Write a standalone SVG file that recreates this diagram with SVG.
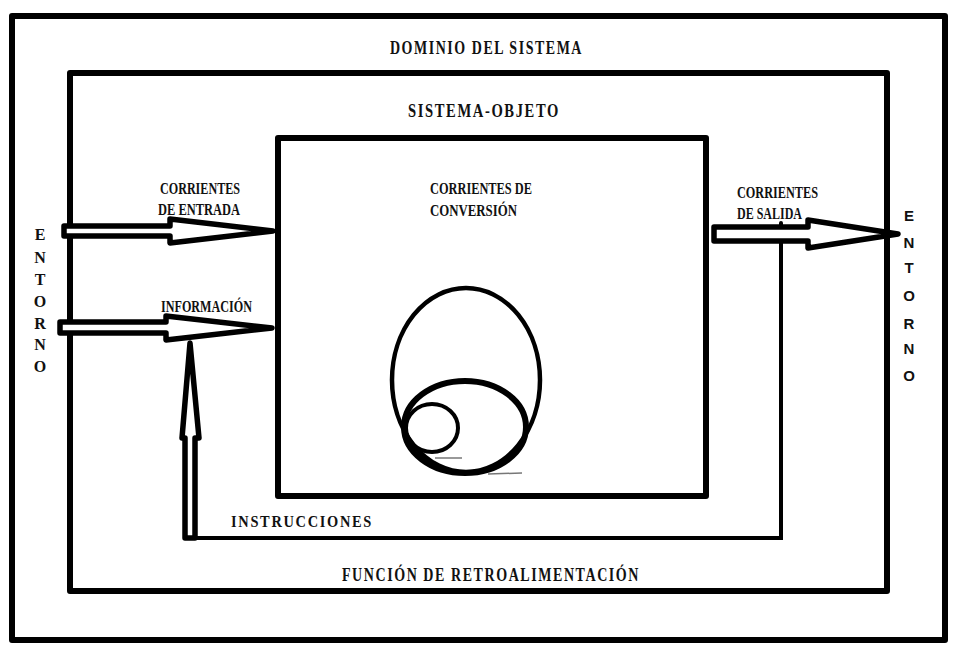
<svg xmlns="http://www.w3.org/2000/svg" width="959" height="654" viewBox="0 0 959 654">
<style>
.box{fill:none;stroke:#000;stroke-width:6;stroke-linejoin:round}
.t{font-family:"Liberation Serif","Times New Roman",serif;font-weight:bold;fill:#111}
.s{font-family:"Liberation Sans",Arial,sans-serif;font-weight:bold;fill:#111}
.arr{fill:#fff;stroke:#000;stroke-width:5.5;stroke-linejoin:round;stroke-linecap:round}
.ln{fill:none;stroke:#000;stroke-width:4;stroke-linecap:round}
.ring{fill:none;stroke:#000}
</style>
<rect width="959" height="654" fill="#fff"/>
<g id="dominio">
<rect class="box" x="12" y="16" width="933" height="624"/>
<text class="t" x="390" y="54" font-size="18" letter-spacing="2" textLength="193" lengthAdjust="spacingAndGlyphs">DOMINIO DEL SISTEMA</text>
</g>
<g id="sistema-objeto">
<rect class="box" x="70" y="73" width="817" height="518"/>
<text class="t" x="408" y="117" font-size="18" letter-spacing="2" textLength="152" lengthAdjust="spacingAndGlyphs">SISTEMA-OBJETO</text>
</g>
<g id="conversion">
<rect class="box" x="278" y="138" width="428" height="358"/>
<text class="t" x="430" y="194" font-size="17" textLength="102" lengthAdjust="spacingAndGlyphs">CORRIENTES DE</text>
<text class="t" x="430" y="216" font-size="17" textLength="87" lengthAdjust="spacingAndGlyphs">CONVERSIÓN</text>
<ellipse class="ring" cx="466" cy="380" rx="74" ry="92" stroke-width="4.5"/>
<ellipse class="ring" cx="465" cy="427" rx="61" ry="46" stroke-width="6"/>
<ellipse class="ring" cx="432" cy="428" rx="26" ry="24" stroke-width="4"/>
<line x1="435" y1="458" x2="462" y2="458" stroke="#777" stroke-width="1.5"/>
<line x1="488" y1="474" x2="522" y2="473" stroke="#777" stroke-width="1.5"/>
</g>
<g id="entorno-izq">
<text class="t" font-size="16" text-anchor="middle">
<tspan x="40" y="240">E</tspan><tspan x="40" y="263">N</tspan><tspan x="40" y="285">T</tspan><tspan x="40" y="307">O</tspan><tspan x="40" y="329">R</tspan><tspan x="40" y="350">N</tspan><tspan x="40" y="372">O</tspan>
</text>
</g>
<g id="entorno-der">
<text class="s" font-size="15" text-anchor="middle">
<tspan x="909" y="221">E</tspan><tspan x="909" y="248">N</tspan><tspan x="909" y="273">T</tspan><tspan x="909" y="301">O</tspan><tspan x="909" y="329">R</tspan><tspan x="909" y="354">N</tspan><tspan x="909" y="381">O</tspan>
</text>
</g>
<g id="labels">
<text class="t" x="160" y="194" font-size="17" textLength="80" lengthAdjust="spacingAndGlyphs">CORRIENTES</text>
<text class="t" x="158" y="215" font-size="17" textLength="82" lengthAdjust="spacingAndGlyphs">DE ENTRADA</text>
<text class="t" x="161" y="312" font-size="17" textLength="91" lengthAdjust="spacingAndGlyphs">INFORMACIÓN</text>
<text class="t" x="737" y="198" font-size="17" textLength="81" lengthAdjust="spacingAndGlyphs">CORRIENTES</text>
<text class="t" x="737" y="219" font-size="17" textLength="65" lengthAdjust="spacingAndGlyphs">DE SALIDA</text>
<text class="t" x="231" y="527" font-size="17" letter-spacing="2" textLength="142" lengthAdjust="spacingAndGlyphs">INSTRUCCIONES</text>
<text class="t" x="342" y="581" font-size="18" letter-spacing="2" textLength="298" lengthAdjust="spacingAndGlyphs">FUNCIÓN DE RETROALIMENTACIÓN</text>
</g>
<g id="connectors">
<polygon class="arr" points="64,226 170,226 170,219 273,231 170,243 170,236 64,236"/>
<polygon class="arr" points="60,322 166,322 166,316 272,328 166,340 166,333 60,333"/>
<polyline class="ln" points="781,223 781,538 186,538"/>
<polygon class="arr" points="714,227 808,227 808,220 898,234 808,248 808,241 714,241"/>
<polygon class="arr" points="185,538 185,438 182,438 190,343 199,438 195,438 195,538"/>
</g>
</svg>
